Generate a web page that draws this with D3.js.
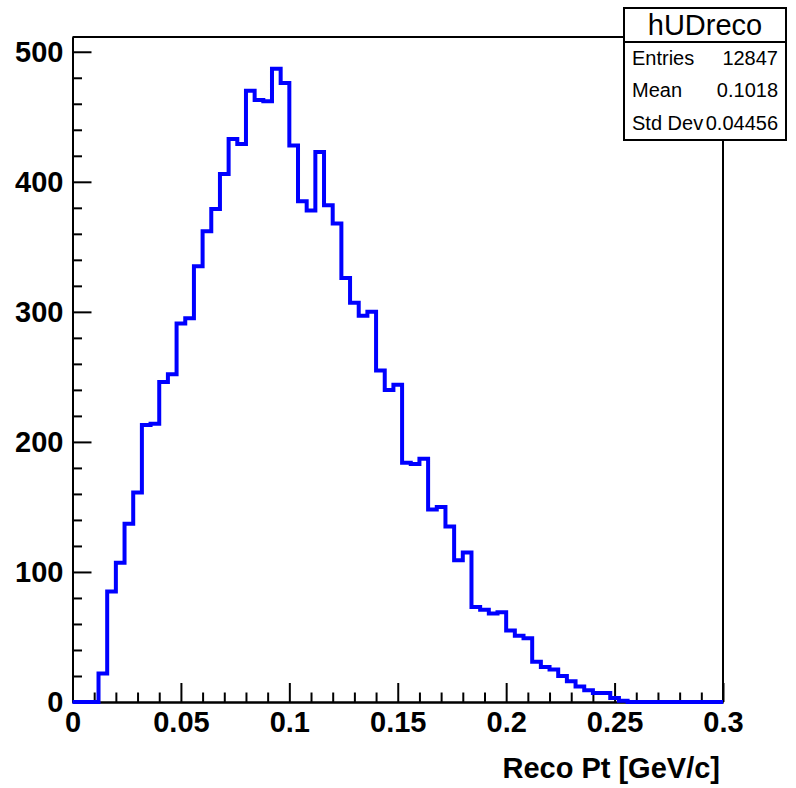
<!DOCTYPE html>
<html><head><meta charset="utf-8">
<script src="https://cdn.jsdelivr.net/npm/d3@7"></script>
<style>body{margin:0;background:#fff}svg{display:block}</style>
</head><body>
<svg id="c" width="796" height="788"></svg>
<script>
// ---- data ----
const histName = "hUDreco";
const xTitle = "Reco Pt [GeV/c]";
const xRange = [0, 0.3];
const binWidth = 0.004;
const counts = [0,0,0,22,85,107,137,161,213,214,
  246,252,291,295,335,362,379,406,433,429,
  470,463,462,487,476,428,385,378,423,382,
  368,326,307,297,300,255,240,244,184,183,
  187,148,150,135,109,115,73,71,68,69,
  55,51,49,31,27,25,20,16,12,9,
  7,7,3,1,0,0,0,0,0,0,
  0,0,0,0,0];
const xMajor = [0,0.05,0.1,0.15,0.2,0.25,0.3];
const xTickLabels = ["0","0.05","0.1","0.15","0.2","0.25","0.3"];
const xMinor = [0.01,0.02,0.03,0.04,0.06,0.07,0.08,0.09,0.11,0.12,0.13,0.14,0.16,0.17,0.18,0.19,0.21,0.22,0.23,0.24,0.26,0.27,0.28,0.29];
const yMajor = [0,100,200,300,400,500];
const yTickLabels = ["0","100","200","300","400","500"];
const yMinor = [20,40,60,80,120,140,160,180,220,240,260,280,320,340,360,380,420,440,460,480];
const statLabels = ["Entries","Mean","Std Dev"];
const statValues = ["12847","0.1018","0.04456"];

// ---- layout ----
const L = 72.5, R = 723, T = 37, B = 702;
const svg = d3.select("#c");
const x = d3.scaleLinear().domain(xRange).range([L, R]);
const yMax = d3.max(counts) * 1.05;
const y = d3.scaleLinear().domain([0, yMax]).range([B, T]);
const font = "'Liberation Sans', Arial, Helvetica, sans-serif";

// frame (top & right)
svg.append("path")
  .attr("d", `M${L},${T}H${R}V${B}`)
  .attr("fill","none").attr("stroke","#000").attr("stroke-width",2);

// x axis
const gx = svg.append("g").attr("transform",`translate(0,${B})`);
gx.call(d3.axisBottom(x).tickValues(xMinor).tickSize(-9.5).tickSizeOuter(0).tickFormat(""));
const gx2 = svg.append("g").attr("transform",`translate(0,${B})`);
gx2.call(d3.axisBottom(x).tickValues(xMajor).tickSize(-19).tickSizeOuter(0).tickPadding(9)
  .tickFormat((d,i)=>xTickLabels[i]));
// y axis
const gy = svg.append("g").attr("transform",`translate(${L},0)`);
gy.call(d3.axisLeft(y).tickValues(yMinor).tickSize(-9.5).tickSizeOuter(0).tickFormat(""));
const gy2 = svg.append("g").attr("transform",`translate(${L},0)`);
gy2.call(d3.axisLeft(y).tickValues(yMajor).tickSize(-19).tickSizeOuter(0).tickPadding(9)
  .tickFormat((d,i)=>yTickLabels[i]));

svg.selectAll(".domain, .tick line").attr("stroke","#000").attr("stroke-width",2);
svg.selectAll(".tick text").attr("font-family",font).attr("font-weight","bold")
  .attr("font-size",29).attr("fill","#000");

// histogram outline
const pts = counts.map((c,i)=>[xRange[0] + i*binWidth, c]);
pts.push([xRange[1], counts[counts.length-1]]);
const line = d3.line().x(d=>x(d[0])).y(d=>y(d[1])).curve(d3.curveStepAfter);
svg.append("path").datum(pts).attr("d", line)
  .attr("fill","none").attr("stroke","#0000ff").attr("stroke-width",4)
  .attr("stroke-linejoin","miter");

// x title
svg.append("text").attr("x", 720).attr("y", 778).attr("text-anchor","end")
  .attr("font-family",font).attr("font-weight","bold").attr("font-size",29)
  .text(xTitle);

// stats box
const sb = {x0:624, x1:786, y0:8, y1:140, ySep:42};
svg.append("rect").attr("x",sb.x0).attr("y",sb.y0).attr("width",sb.x1-sb.x0).attr("height",sb.y1-sb.y0)
  .attr("fill","#fff").attr("stroke","#000").attr("stroke-width",2);
svg.append("line").attr("x1",sb.x0).attr("x2",sb.x1).attr("y1",sb.ySep).attr("y2",sb.ySep)
  .attr("stroke","#000").attr("stroke-width",2);
svg.append("text").attr("x",(sb.x0+sb.x1)/2).attr("y",35).attr("text-anchor","middle")
  .attr("font-family",font).attr("font-size",29).text(histName);
const rowY = [65, 97, 130];
statLabels.forEach((s,i)=>{
  svg.append("text").attr("x",632).attr("y",rowY[i]).attr("font-family",font)
    .attr("font-size",20).text(s);
  svg.append("text").attr("x",778).attr("y",rowY[i]).attr("text-anchor","end")
    .attr("font-family",font).attr("font-size",20).text(statValues[i]);
});
</script>
</body></html>
